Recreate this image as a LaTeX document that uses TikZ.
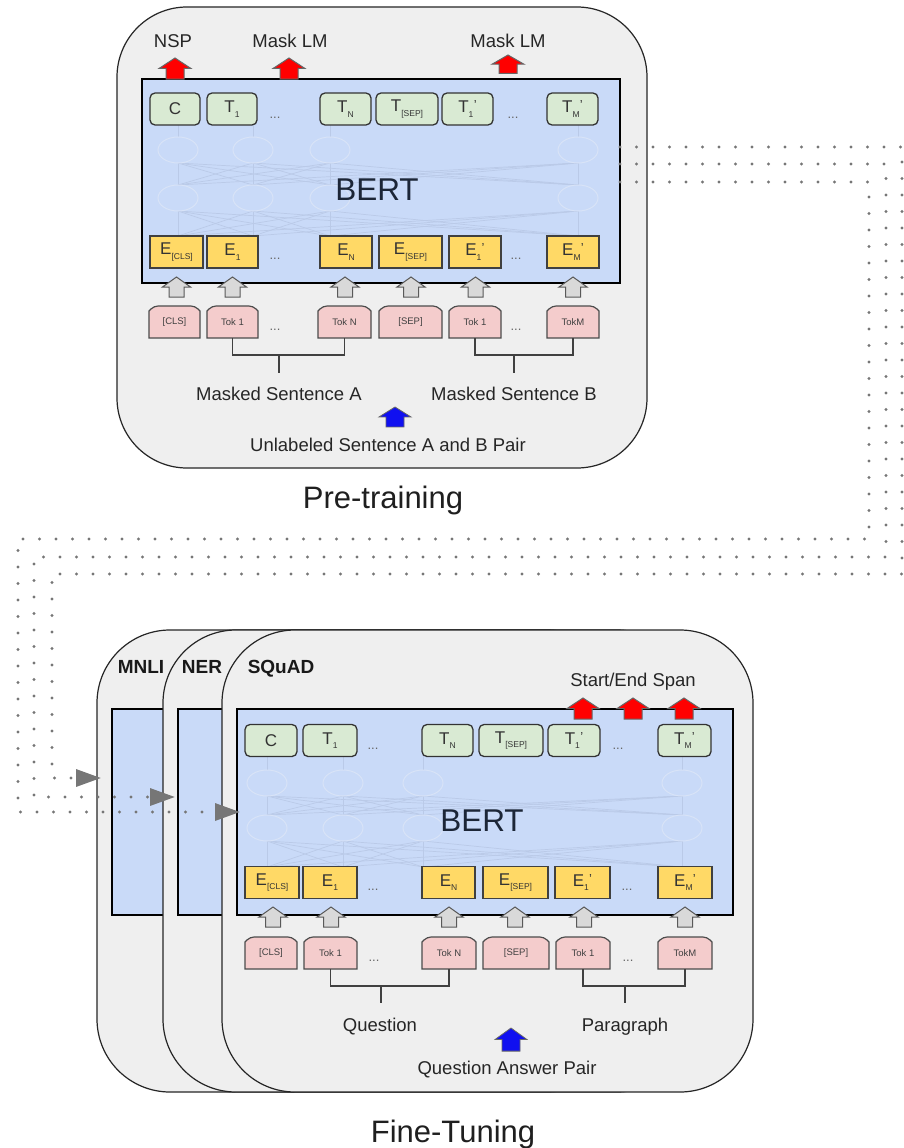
\documentclass[tikz,border=0pt]{standalone}
\usepackage{fontspec}
\setmainfont{Liberation Sans}
\usetikzlibrary{arrows.meta}
\definecolor{bertblue}{HTML}{C9DAF8}
\definecolor{tgreen}{HTML}{D9EAD3}
\definecolor{eyellow}{HTML}{FFD966}
\definecolor{tpink}{HTML}{F4CCCC}
\definecolor{boxgrey}{HTML}{EFEFEF}
\definecolor{arrgrey}{HTML}{D9D9D9}
\definecolor{dotgrey}{HTML}{767676}
\definecolor{netline}{HTML}{BACAE8}
\definecolor{netell}{HTML}{D8E3F7}
\definecolor{bertink}{HTML}{1C2637}
\definecolor{inkgrey}{HTML}{333333}
\definecolor{arrred}{HTML}{FF0000}
\definecolor{arrblue}{HTML}{1010F0}
\newcommand\sbs[1]{\raisebox{-0.5ex}{\fontsize{8.5}{9}\selectfont #1}}
\newcommand\sbp[1]{\raisebox{-0.5ex}{\fontsize{8.5}{9}\selectfont #1}\kern0.3pt\raisebox{0.35ex}{\fontsize{13}{13}\selectfont '}}
\newcommand\tokbox[5]{%
  \path[tokshape] ({#2-#4/2},{#3+16}) -- ({#2-#4/2},{#3-11}) [rounded corners=4pt] -- ({#2-#4/2+5},{#3-16}) -- ({#2+#4/2-5},{#3-16}) [sharp corners] -- ({#2+#4/2},{#3-11}) -- ({#2+#4/2},{#3+16}) -- cycle;
  \node[toktext, minimum width=#4] (#1) at (#2,#3) {#5};}
\begin{document}
\begin{tikzpicture}[x=1pt,y=-1pt,
  outerbox/.style={draw=black!85, line width=1.2pt, fill=boxgrey, inner sep=0pt},
  bertbox/.style={draw=black, line width=2.3pt, fill=bertblue, inner sep=0pt},
  tnode/.style={draw=black!80, line width=1.3pt, fill=tgreen, rounded corners=5pt, minimum height=32pt, inner sep=0pt, font=\fontsize{17}{20}\selectfont, text=inkgrey},
  enode/.style={draw=black!75, line width=1.3pt, fill=eyellow, minimum height=32pt, inner sep=0pt, font=\fontsize{17}{20}\selectfont, text=inkgrey},
  tokshape/.style={draw=black!70, line width=1.2pt, fill=tpink},
  toktext/.style={inner sep=0pt, minimum height=32pt, font=\fontsize{9.5}{11}\selectfont, text=black!75},
  dots/.style={anchor=base, inner sep=0pt, font=\fontsize{13}{14}\selectfont, text=black!60},
  lab/.style={anchor=base, inner sep=0pt, font=\fontsize{18.5}{22}\selectfont, text=black!85},
  blab/.style={anchor=base, inner sep=0pt, font=\fontsize{19}{22}\selectfont\bfseries, text=black!90},
  title/.style={anchor=base, inner sep=0pt, font=\fontsize{31}{36}\selectfont, text=black!88},
  berttxt/.style={anchor=base, inner sep=0pt, font=\fontsize{31.5}{36}\selectfont, text=bertink},
  netl/.style={draw=netline, line width=0.7pt},
  netel/.style={draw=netell, fill=bertblue, line width=1pt},
  brk/.style={draw=black!75, line width=1.5pt},
  garr/.style={fill=arrgrey, draw=black!65, line width=1pt},
  rarr/.style={fill=arrred, draw=black!60, line width=1pt},
  barr/.style={fill=arrblue, draw=black!60, line width=0.8pt},
  dotline/.style={draw=dotgrey, line width=3.2pt, line cap=round, dash pattern=on 0pt off 16.5pt, -{Triangle[length=25pt,width=17pt]}},
  blockup/.pic={\path[pic actions] (0,0) -- (14,10) -- (7.5,10) -- (7.5,20) -- (-7.5,20) -- (-7.5,10) -- (-14,10) -- cycle;},
  blockbig/.pic={\path[pic actions] (0,0) -- (16,10.5) -- (9,10.5) -- (9,21) -- (-9,21) -- (-9,10.5) -- (-16,10.5) -- cycle;}
]
\useasboundingbox (0,0) rectangle (903,1148);
\fill[white] (0,0) rectangle (903,1148);

%% ================= PRE-TRAINING =================
\node[outerbox, rounded corners=70pt, minimum width=530, minimum height=461] (preBox) at (382,237.5) {};
\node[bertbox, minimum width=478, minimum height=204] (bertP) at (381,181) {};
% faint network
\foreach \xa in {178,253,330,578} {
  \draw[netl] (\xa,125) -- (\xa,236);
  \foreach \xb in {178,253,330,578} {
    \draw[netl] (\xa,163) -- (\xb,185);
    \draw[netl] (\xa,211) -- (\xb,236);
  }
}
\foreach \xa in {178,253,330,578} {
  \draw[netel] (\xa,150) ellipse [x radius=20, y radius=13];
  \draw[netel] (\xa,198) ellipse [x radius=20, y radius=13];
}
\node[berttxt] (bertPt) at (377,200) {BERT};
% T row
\node[tnode, minimum width=50] (cP) at (175,109) {C};
\node[tnode, minimum width=50] (t1P) at (232,109) {T\sbs{1}};
\node[dots] (dt1P) at (275,118) {...};
\node[tnode, minimum width=51] (tnP) at (345.5,109) {T\sbs{N}};
\node[tnode, minimum width=62] (tsepP) at (407,109) {T\sbs{[SEP]}};
\node[tnode, minimum width=51] (t1bP) at (467.5,109) {T\sbp{1}};
\node[dots] (dt2P) at (513,118) {...};
\node[tnode, minimum width=51] (tmP) at (572.5,109) {T\sbp{M}};
% E row
\node[enode, minimum width=53] (ecP) at (176.5,252) {E\sbs{[CLS]}};
\node[enode, minimum width=51] (e1P) at (232.5,252) {E\sbs{1}};
\node[dots] (de1P) at (275,259) {...};
\node[enode, minimum width=52] (enP) at (346,252) {E\sbs{N}};
\node[enode, minimum width=63] (esepP) at (410.5,252) {E\sbs{[SEP]}};
\node[enode, minimum width=52] (e1bP) at (475,252) {E\sbp{1}};
\node[dots] (de2P) at (516,259) {...};
\node[enode, minimum width=52] (emP) at (573,252) {E\sbp{M}};
% Tok row
\tokbox{kcP}{174.5}{322}{51}{[CLS]}
\tokbox{k1P}{232.5}{322}{51}{Tok 1}
\node[dots] (dk1P) at (275,330) {...};
\tokbox{knP}{344.5}{322}{53}{Tok N}
\tokbox{ksepP}{410.5}{322}{63}{[SEP]}
\tokbox{k1bP}{475}{322}{52}{Tok 1}
\node[dots] (dk2P) at (516,330) {...};
\tokbox{kmP}{573}{322}{52}{TokM}
% grey arrows
\foreach \xa in {176.5,232.5,345,411,475.5,573} { \pic[garr] at (\xa,277) {blockup}; }
% brackets
\draw[brk] (k1P.south) -- ++(0,17) -| (knP.south);
\draw[brk] (279,355) -- (279,373);
\draw[brk] (k1bP.south) -- ++(0,17) -| (kmP.south);
\draw[brk] (514,355) -- (514,373);
% labels
\node[lab] (nspL) at (173,48) {NSP};
\node[lab] (mlm1L) at (290,48) {Mask LM};
\node[lab] (mlm2L) at (508,48) {Mask LM};
\pic[rarr] at (175,58) {blockbig};
\pic[rarr] at (289,58) {blockbig};
\pic[rarr, yscale=0.88] at (508,55) {blockbig};
\node[lab] (msaL) at (279,400) {Masked Sentence A};
\node[lab] (msbL) at (514,400) {Masked Sentence B};
\pic[barr, yscale=0.95] at (395,407) {blockbig};
\node[lab] (unlL) at (388,451) {Unlabeled Sentence A and B Pair};
\node[title] (preT) at (383,508) {Pre-training};

%% ================= FINE-TUNING =================
\node[outerbox, rounded corners=73pt, minimum width=523, minimum height=462] (mnliBox) at (358.5,861) {};
\node[bertbox, minimum width=450, minimum height=206] (mnliB) at (337,812) {};
\node[outerbox, rounded corners=73pt, minimum width=527, minimum height=462] (nerBox) at (426.5,861) {};
\node[bertbox, minimum width=450, minimum height=206] (nerB) at (403,812) {};
\node[outerbox, rounded corners=73pt, minimum width=531, minimum height=462] (sqBox) at (487.5,861) {};
\node[bertbox, minimum width=496, minimum height=206] (bertF) at (485,812) {};
\node[blab] (mnliL) at (141,673) {MNLI};
\node[blab] (nerL) at (202,673) {NER};
\node[blab] (sqL) at (281,673) {SQuAD};
% faint network
\foreach \xa in {267,343,423,682} {
  \draw[netl] (\xa,756) -- (\xa,867);
  \foreach \xb in {267,343,423,682} {
    \draw[netl] (\xa,796) -- (\xb,815);
    \draw[netl] (\xa,841) -- (\xb,867);
  }
}
\foreach \xa in {267,343,423,682} {
  \draw[netel] (\xa,783) ellipse [x radius=20, y radius=13];
  \draw[netel] (\xa,828) ellipse [x radius=20, y radius=13];
}
\node[berttxt] (bertFt) at (482,831) {BERT};
% T row
\node[tnode, minimum width=52] (cF) at (271,740.5) {C};
\node[tnode, minimum width=54] (t1F) at (330,740.5) {T\sbs{1}};
\node[dots] (dt1F) at (373,749) {...};
\node[tnode, minimum width=51] (tnF) at (447.5,740.5) {T\sbs{N}};
\node[tnode, minimum width=64] (tsepF) at (511,740.5) {T\sbs{[SEP]}};
\node[tnode, minimum width=52] (t1bF) at (574,740.5) {T\sbp{1}};
\node[dots] (dt2F) at (618,749) {...};
\node[tnode, minimum width=53] (tmF) at (684.5,740.5) {T\sbp{M}};
% E row
\node[enode, minimum width=54] (ecF) at (272,882.5) {E\sbs{[CLS]}};
\node[enode, minimum width=54] (e1F) at (330,882.5) {E\sbs{1}};
\node[dots] (de1F) at (373,890) {...};
\node[enode, minimum width=53] (enF) at (448.5,882.5) {E\sbs{N}};
\node[enode, minimum width=65] (esepF) at (515.5,882.5) {E\sbs{[SEP]}};
\node[enode, minimum width=55] (e1bF) at (582.5,882.5) {E\sbp{1}};
\node[dots] (de2F) at (627,890) {...};
\node[enode, minimum width=54] (emF) at (685,882.5) {E\sbp{M}};
% Tok row
\tokbox{kcF}{271}{953}{52}{[CLS]}
\tokbox{k1F}{330.5}{953}{53}{Tok 1}
\node[dots] (dk1F) at (374,961) {...};
\tokbox{knF}{449}{953}{54}{Tok N}
\tokbox{ksepF}{516}{953}{66}{[SEP]}
\tokbox{k1bF}{583}{953}{54}{Tok 1}
\node[dots] (dk2F) at (628,961) {...};
\tokbox{kmF}{685}{953}{54}{TokM}
% grey arrows
\foreach \xa in {273,331,449,515,584,685} { \pic[garr] at (\xa,907) {blockup}; }
% brackets
\draw[brk] (k1F.south) -- ++(0,17) -| (knF.south);
\draw[brk] (381,986) -- (381,1003);
\draw[brk] (k1bF.south) -- ++(0,17) -| (kmF.south);
\draw[brk] (625,986) -- (625,1003);
% labels
\node[lab] (seL) at (633,686) {Start/End Span};
\pic[rarr] at (583,698) {blockbig};
\pic[rarr] at (633,698) {blockbig};
\pic[rarr] at (684,698) {blockbig};
\node[lab] (qL) at (380,1031) {Question};
\node[lab] (pL) at (625,1031) {Paragraph};
\pic[barr, yscale=1.1] at (511,1028) {blockbig};
\node[lab] (qapL) at (507,1074) {Question Answer Pair};
\node[title] (ftT) at (453,1142) {Fine-Tuning};

%% ================= DOTTED CONNECTORS =================
\coordinate (sA) at (620,182);
\coordinate (sB) at (620,164);
\coordinate (sC) at (620,147);
\coordinate (eA) at (240,812);
\coordinate (eB) at (175,797);
\coordinate (eC) at (101,778);
\draw[dotline] (sA) -- (869,182) -- (869,539) -- (18,539) -- (18,812) -- (eA);
\draw[dotline] (sB) -- (886,164) -- (886,557) -- (34,557) -- (34,797) -- (eB);
\draw[dotline] (sC) -- (902,147) -- (902,574) -- (52,574) -- (52,778) -- (eC);
\end{tikzpicture}
\end{document}
